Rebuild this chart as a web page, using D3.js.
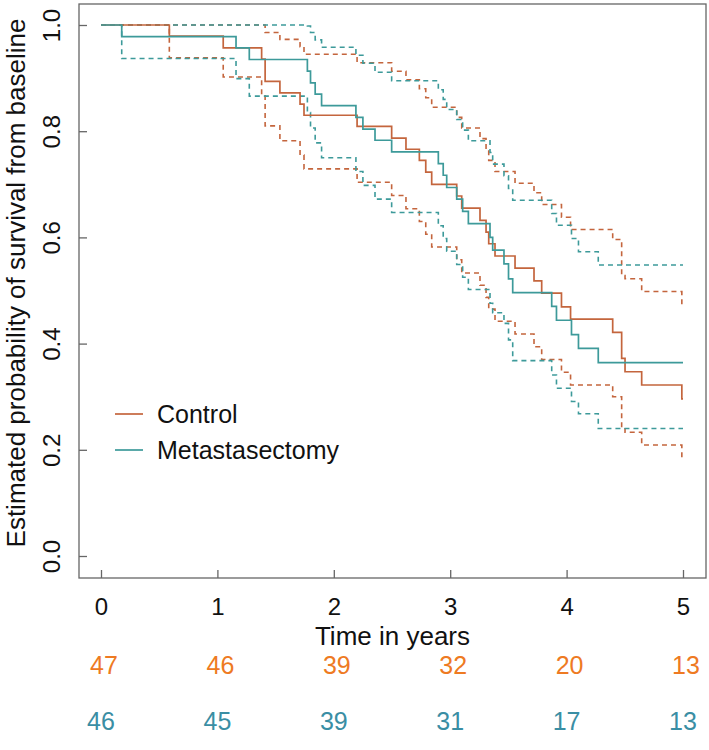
<!DOCTYPE html>
<html>
<head>
<meta charset="utf-8">
<script src="https://cdn.jsdelivr.net/npm/d3@7"></script>
<style>
  html, body { margin: 0; padding: 0; background: #fff; }
  svg { display: block; font-family: "Liberation Sans", Arial, Helvetica, sans-serif; }
</style>
</head>
<body>
<svg id="chart" width="709" height="750"></svg>
<script>
// ---------------- data ----------------
const years = [0, 1, 2, 3, 4, 5];
const yTicks = [0, 0.2, 0.4, 0.6, 0.8, 1.0];
const groups = ["Control", "Metastasectomy"];
const endTime = 5;

const controlTime  = [0, 0.587, 1.05, 1.38, 1.41, 1.537, 1.71, 1.744, 2.20, 2.497, 2.62, 2.735, 2.79, 2.841, 3.056, 3.099, 3.256, 3.308, 3.331, 3.385, 3.557, 3.720, 3.786, 3.956, 4.034, 4.396, 4.473, 4.502, 4.645, 4.99];
const controlSurv  = [1, 0.979, 0.957, 0.936, 0.894, 0.872, 0.851, 0.830, 0.809, 0.787, 0.766, 0.745, 0.723, 0.700, 0.678, 0.655, 0.632, 0.610, 0.588, 0.565, 0.542, 0.518, 0.495, 0.469, 0.446, 0.421, 0.372, 0.347, 0.322, 0.296];
const controlLower = [1, 0.938, 0.902, 0.869, 0.810, 0.782, 0.755, 0.729, 0.704, 0.679, 0.654, 0.630, 0.606, 0.582, 0.558, 0.533, 0.510, 0.487, 0.465, 0.442, 0.418, 0.394, 0.370, 0.346, 0.322, 0.300, 0.242, 0.233, 0.209, 0.185];
const controlUpper = [1, 1, 1, 1, 0.986, 0.973, 0.959, 0.945, 0.929, 0.913, 0.897, 0.880, 0.863, 0.845, 0.826, 0.806, 0.786, 0.766, 0.745, 0.724, 0.702, 0.684, 0.662, 0.638, 0.615, 0.596, 0.528, 0.522, 0.498, 0.473];

const metaTime  = [0, 0.178, 1.16, 1.274, 1.773, 1.80, 1.84, 1.895, 2.19, 2.25, 2.354, 2.497, 2.898, 2.94, 2.97, 3.056, 3.107, 3.156, 3.342, 3.365, 3.462, 3.501, 3.537, 3.872, 3.913, 4.042, 4.102, 4.272];
const metaSurv  = [1, 0.978, 0.957, 0.935, 0.913, 0.891, 0.870, 0.848, 0.826, 0.804, 0.783, 0.761, 0.739, 0.717, 0.694, 0.672, 0.649, 0.626, 0.600, 0.576, 0.550, 0.522, 0.496, 0.470, 0.444, 0.417, 0.391, 0.364];
const metaLower = [1, 0.937, 0.899, 0.866, 0.835, 0.806, 0.778, 0.750, 0.724, 0.698, 0.672, 0.647, 0.622, 0.598, 0.574, 0.549, 0.525, 0.502, 0.476, 0.458, 0.438, 0.407, 0.368, 0.341, 0.316, 0.291, 0.268, 0.240];
const metaUpper = [1, 1, 1, 1, 0.998, 0.986, 0.972, 0.958, 0.943, 0.928, 0.911, 0.895, 0.878, 0.860, 0.841, 0.822, 0.802, 0.782, 0.760, 0.738, 0.716, 0.692, 0.670, 0.645, 0.623, 0.598, 0.573, 0.548];

const riskControl = [47, 46, 39, 32, 20, 13];
const riskMeta    = [46, 45, 39, 31, 17, 13];

// ---------------- styling ----------------
const colControl = "#c4653d";
const colMeta = "#3d9a9a";
const colRiskControl = "#ee7a22";
const colRiskMeta = "#3a8ea4";

const box = { left: 79, top: 4, right: 706, bottom: 578 };
const x = d3.scaleLinear().domain([0, 5]).range([101, 683]);
const y = d3.scaleLinear().domain([0, 1]).range([556, 25]);

const svg = d3.select("#chart");

// frame
svg.append("rect")
  .attr("x", box.left).attr("y", box.top)
  .attr("width", box.right - box.left).attr("height", box.bottom - box.top)
  .attr("fill", "none").attr("stroke", "#666").attr("stroke-width", 1.3);

// x axis (ticks inward)
const gx = svg.append("g")
  .attr("transform", `translate(0,${box.bottom})`)
  .call(d3.axisBottom(x).tickValues(years).tickFormat(d3.format("d"))
        .tickSizeInner(-8).tickSizeOuter(0).tickPadding(20));
gx.select(".domain").remove();
gx.selectAll(".tick line").attr("stroke", "#666").attr("stroke-width", 1.3);
gx.selectAll(".tick text").attr("font-size", 24).attr("fill", "#111")
  .attr("font-family", "Liberation Sans, Arial, sans-serif");

// y axis (ticks inward, labels rotated)
const gy = svg.append("g")
  .attr("transform", `translate(${box.left},0)`)
  .call(d3.axisLeft(y).tickValues(yTicks).tickFormat(d3.format(".1f"))
        .tickSizeInner(-8).tickSizeOuter(0));
gy.select(".domain").remove();
gy.selectAll(".tick line").attr("stroke", "#666").attr("stroke-width", 1.3);
gy.selectAll(".tick text")
  .attr("x", 0).attr("dy", 0)
  .attr("text-anchor", "middle")
  .attr("transform", "translate(-19,0) rotate(-90)")
  .attr("font-size", 24).attr("fill", "#111")
  .attr("font-family", "Liberation Sans, Arial, sans-serif");

// axis titles
svg.append("text")
  .attr("transform", `translate(25,${(box.top + box.bottom) / 2 - 8}) rotate(-90)`)
  .attr("text-anchor", "middle").attr("font-size", 26).attr("fill", "#111")
  .text("Estimated probability of survival from baseline");

svg.append("text")
  .attr("x", (box.left + box.right) / 2).attr("y", 645)
  .attr("text-anchor", "middle").attr("font-size", 26).attr("fill", "#111")
  .text("Time in years");

// curves
const step = d3.line()
  .x(d => x(d[0])).y(d => y(d[1]))
  .curve(d3.curveStepAfter);

function pts(times, vals) {
  const p = times.map((t, i) => [t, vals[i]]);
  p.push([endTime, vals[vals.length - 1]]);
  return p;
}

const series = [
  { time: controlTime, surv: controlSurv, lo: controlLower, hi: controlUpper, col: colControl },
  { time: metaTime, surv: metaSurv, lo: metaLower, hi: metaUpper, col: colMeta }
];

series.forEach(s => {
  [s.lo, s.hi].forEach(v => {
    svg.append("path")
      .attr("d", step(pts(s.time, v)))
      .attr("fill", "none").attr("stroke", s.col)
      .attr("stroke-width", 1.6).attr("stroke-dasharray", "5,4");
  });
});
series.forEach(s => {
  svg.append("path")
    .attr("d", step(pts(s.time, s.surv)))
    .attr("fill", "none").attr("stroke", s.col)
    .attr("stroke-width", 1.7);
});

// legend
const legCols = [colControl, colMeta];
const leg = svg.append("g");
groups.forEach((g, i) => {
  const ly = 414 + i * 36;
  leg.append("line").attr("x1", 115).attr("x2", 143).attr("y1", ly).attr("y2", ly)
    .attr("stroke", legCols[i]).attr("stroke-width", 1.7);
  leg.append("text").attr("x", 157).attr("y", ly).attr("dy", "0.35em")
    .attr("font-size", 25).attr("fill", "#111").text(g);
});

// numbers at risk
svg.append("g").selectAll("text").data(riskControl).join("text")
  .attr("x", (d, i) => x(years[i]) + 3).attr("y", 674)
  .attr("text-anchor", "middle").attr("font-size", 25).attr("fill", colRiskControl)
  .text(d => d);
svg.append("g").selectAll("text").data(riskMeta).join("text")
  .attr("x", (d, i) => x(years[i])).attr("y", 730)
  .attr("text-anchor", "middle").attr("font-size", 25).attr("fill", colRiskMeta)
  .text(d => d);
</script>
</body>
</html>
